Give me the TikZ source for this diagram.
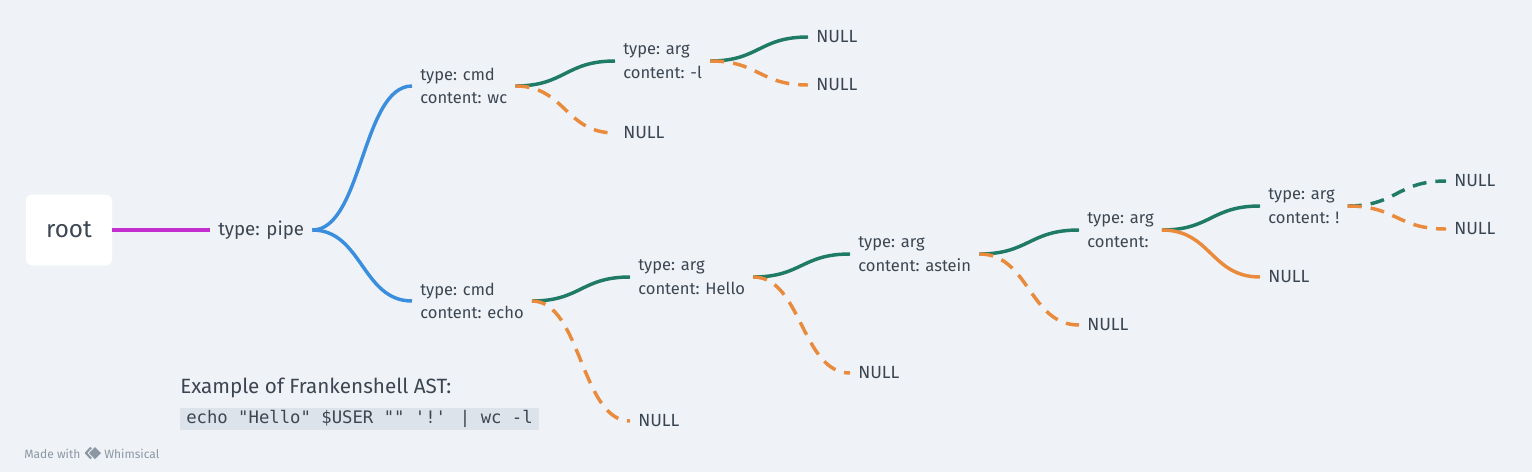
\documentclass[tikz,border=0pt]{standalone}
\usepackage{fontspec}
\setmainfont{Fira Sans}
\newfontfamily\codefont{DejaVu Sans Mono}
\usetikzlibrary{calc}
\definecolor{bg}{HTML}{EFF3F7}
\definecolor{txt}{HTML}{3C4653}
\definecolor{cmag}{HTML}{C22FCE}
\definecolor{cblue}{HTML}{3B8EDE}
\definecolor{cgreen}{HTML}{1F7A66}
\definecolor{corange}{HTML}{E98A3C}
\definecolor{codebg}{HTML}{DDE3EA}
\definecolor{cgray}{HTML}{8C97A3}
\begin{document}
\begin{tikzpicture}[x=0.75pt,y=-0.75pt,
  lbl/.style={anchor=west,inner xsep=6pt,inner ysep=0pt,align=left,text=txt,
    font=\fontsize{12.4}{17.6}\selectfont},
  nul/.style={lbl,font=\fontsize{13.2}{17.6}\selectfont},
  biglbl/.style={lbl,font=\fontsize{14}{17.6}\selectfont},
  rootbox/.style={fill=white,rounded corners=4.5pt,minimum width=64.5pt,minimum height=53pt,
    text=txt,font=\fontsize{18.2}{21}\selectfont},
  S/.style={to path={let \p1=(\tikztostart),\p2=(\tikztotarget) in
    .. controls (0.5*\x1+0.5*\x2,\y1) and (0.5*\x1+0.5*\x2,\y2) .. (\tikztotarget)}},
  wire/.style={line width=2.6pt},
  dsh/.style={dash pattern=on 10.5pt off 6.75pt}]
\fill[bg] (0,0) rectangle (1532,472);
\useasboundingbox (0,0) rectangle (1532,472);

\node[rootbox] (root) at (69,230) {root};
\node[biglbl] (pipe) at (210,230) {type: pipe};
\node[lbl] (wc) at (412,86) {type: cmd\\content: wc};
\node[lbl] (echo) at (412,301) {type: cmd\\content: echo};
\node[lbl] (argl) at (615,61) {type: arg\\content: -l};
\node[nul] (n1) at (615,133) {NULL};
\node[nul] (n2) at (808,37) {NULL};
\node[nul] (n3) at (808,85) {NULL};
\node[lbl] (hello) at (630,277) {type: arg\\content: Hello};
\node[nul] (n4) at (630,421) {NULL};
\node[lbl] (astein) at (850,254) {type: arg\\content: astein};
\node[nul] (n5) at (850,373) {NULL};
\node[lbl] (empty) at (1079,230) {type: arg\\content:};
\node[nul] (n6) at (1079,325) {NULL};
\node[lbl] (bang) at (1260,206) {type: arg\\content: !};
\node[nul] (n7) at (1260,277) {NULL};
\node[nul] (n8) at (1446,181) {NULL};
\node[nul] (n9) at (1446,229) {NULL};

\draw[wire,cmag] (root.east) -- (pipe.west);
\draw[wire,cblue] (pipe.east) to[S] (wc.west);
\draw[wire,cblue] (pipe.east) to[S] (echo.west);

\draw[wire,cgreen] (wc.east) to[S] (argl.west);
\draw[wire,corange,dsh] (wc.east) to[S] (n1.west);
\draw[wire,cgreen] (argl.east) to[S] (n2.west);
\draw[wire,corange,dsh] (argl.east) to[S] (n3.west);

\draw[wire,cgreen] (echo.east) to[S] (hello.west);
\draw[wire,corange,dsh] (echo.east) to[S] (n4.west);
\draw[wire,cgreen] (hello.east) to[S] (astein.west);
\draw[wire,corange,dsh] (hello.east) to[S] (n5.west);
\draw[wire,cgreen] (astein.east) to[S] (empty.west);
\draw[wire,corange,dsh] (astein.east) to[S] (n6.west);
\draw[wire,cgreen] (empty.east) to[S] (bang.west);
\draw[wire,corange] (empty.east) to[S] (n7.west);
\draw[wire,cgreen,dsh] (bang.east) to[S] (n8.west);
\draw[wire,corange,dsh] (bang.east) to[S] (n9.west);

\node[anchor=west,inner sep=0pt,text=txt,font=\fontsize{15.5}{18}\selectfont] (title) at (180,388) {Example of Frankenshell AST:};
\node[anchor=west,fill=codebg,inner xsep=4.5pt,inner ysep=0pt,minimum height=16.5pt,text=txt,
  font=\codefont\fontsize{12.95}{14}\selectfont] (code) at (180,419) {echo "Hello" \$USER "" '!' | wc -l};

\node[anchor=west,inner sep=0pt,text=cgray,font=\fontsize{9}{10}\selectfont] (made) at (24,453.5) {Made with};
\draw[cgray,line width=1.6pt,line join=round] (91,447.5) -- (86,453) -- (91,458.5);
\fill[cgray] (95,447) -- (101,453) -- (95,459) -- (89,453) -- cycle;
\node[anchor=west,inner sep=0pt,text=cgray,font=\fontsize{9}{10}\selectfont] (whim) at (104,453.5) {Whimsical};
\end{tikzpicture}
\end{document}
